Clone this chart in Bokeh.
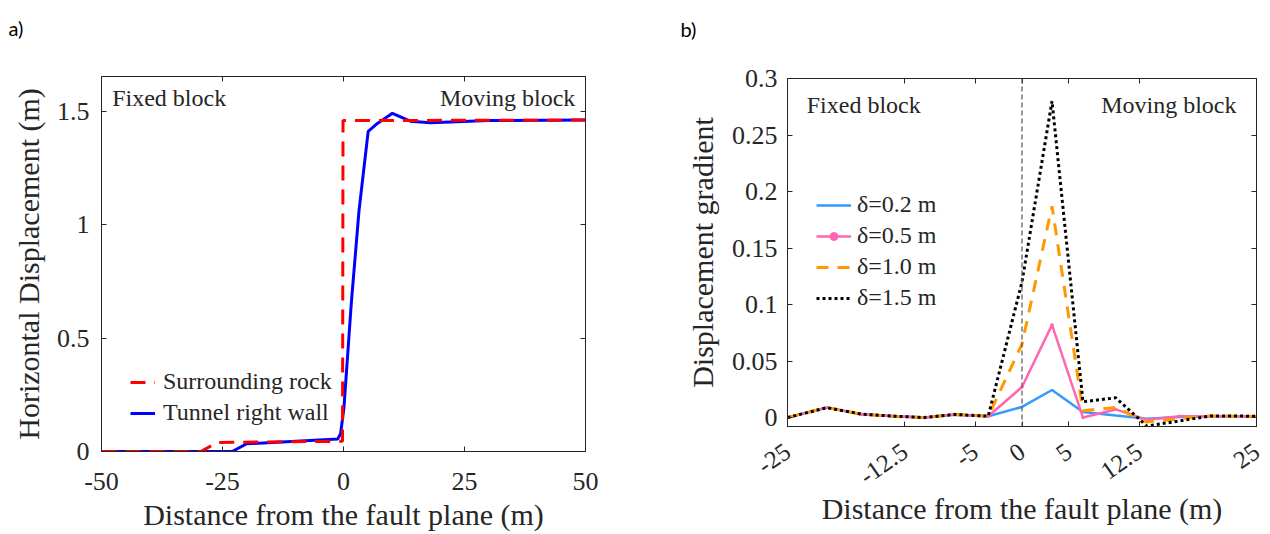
import math
from bokeh.plotting import figure
from bokeh.layouts import row, column
from bokeh.models import (LinearAxis, FixedTicker, Range1d, Label, Legend,
                          LegendItem, Span)
from bokeh.embed import file_html
from bokeh.resources import INLINE

# ---------------- Panel a data ----------------
rock_x = [-50, -29.5, -26, -0.2, -0.1, 50]
rock_y = [0, 0, 0.04, 0.045, 1.458, 1.46]
wall_x = [-50, -23, -20, -1.2, -0.6, 0.1, 1.6, 3.2, 5.1, 7.0, 10.1, 13.8, 18, 30, 50]
wall_y = [0, 0, 0.034, 0.055, 0.078, 0.195, 0.65, 1.06, 1.41, 1.445, 1.49, 1.455, 1.448, 1.458, 1.46]
a_xticks = [-50, -25, 0, 25, 50]
a_xtick_labels = ["-50", "-25", "0", "25", "50"]
a_yticks = [0, 0.5, 1, 1.5]
a_ytick_labels = ["0", "0.5", "1", "1.5"]

# ---------------- Panel b data ----------------
b_x = [-25, -20.8, -17.1, -13.6, -10.4, -7.2, -3.6, 0, 3.2, 6.5, 10.0, 13.3, 16.8, 20.1, 25]
grad_02 = [0.0, 0.0088, 0.003, 0.0012, 0.0, 0.0025, 0.0012, 0.0094, 0.0244, 0.005, 0.0018, -0.0010, 0.0005, 0.001, 0.001]
grad_05 = [0.0, 0.0088, 0.003, 0.0012, 0.0, 0.0028, 0.0012, 0.027, 0.082, 0.0, 0.0072, -0.002, 0.0012, 0.0012, 0.001]
grad_10 = [0.0, 0.0088, 0.003, 0.0012, 0.0, 0.0028, 0.0012, 0.065, 0.187, 0.006, 0.009, -0.004, -0.001, 0.0015, 0.001]
grad_15 = [0.0, 0.0088, 0.003, 0.0012, 0.0, 0.0028, 0.0012, 0.12, 0.28, 0.014, 0.0175, -0.0075, -0.003, 0.0015, 0.0012]
b_xticks = [-25, -12.5, -5, 0, 5, 12.5, 25]
b_xtick_labels = ["-25", "-12.5", "-5", "0", "5", "12.5", "25"]
b_yticks = [0, 0.05, 0.1, 0.15, 0.2, 0.25, 0.3]
b_ytick_labels = ["0", "0.05", "0.1", "0.15", "0.2", "0.25", "0.3"]

SERIF = "Liberation Serif"
AX = "#262626"
TXT = "#262626"
XLAB = "Distance from the fault plane (m)"


def hide_labels(ax):
    ax.major_label_text_font_size = "1px"
    ax.major_label_text_color = None
    ax.major_label_standoff = 0


def style(p, xticks, xlabels, yticks, ylabels, xlabel, ylabel):
    p.xgrid.visible = False
    p.ygrid.visible = False
    p.outline_line_color = AX
    p.outline_line_width = 1
    p.background_fill_color = "white"
    p.border_fill_color = "white"
    xax = p.below[0]
    yax = p.left[0]
    for ax, ticks, labels, lab in ((xax, xticks, xlabels, xlabel),
                                   (yax, yticks, ylabels, ylabel)):
        ax.ticker = FixedTicker(ticks=ticks)
        ax.major_label_overrides = {t: l for t, l in zip(ticks, labels)}
        ax.major_tick_in = 5
        ax.major_tick_out = 0
        ax.minor_tick_line_color = None
        ax.axis_line_color = AX
        ax.major_tick_line_color = AX
        ax.major_label_text_font = SERIF
        ax.major_label_text_font_size = "26px"
        ax.major_label_text_color = TXT
        ax.axis_label = lab
        ax.axis_label_text_font = SERIF
        ax.axis_label_text_font_size = "30px"
        ax.axis_label_text_font_style = "normal"
        ax.axis_label_text_color = TXT
    for side, ticks in (("above", xticks), ("right", yticks)):
        ax = LinearAxis(ticker=FixedTicker(ticks=ticks))
        hide_labels(ax)
        ax.major_tick_in = 5
        ax.major_tick_out = 0
        ax.minor_tick_line_color = None
        ax.axis_line_color = AX
        ax.major_tick_line_color = AX
        p.add_layout(ax, side)
    return xax, yax


def panel_tag(p, text, offset, standoff):
    # trailing blank line lifts the tag towards the top edge of the canvas
    p.title.text = text + "\n\u00a0"
    p.title.align = "left"
    p.title.vertical_align = "bottom"
    p.title.offset = offset
    p.title.standoff = standoff
    p.title.text_font = "Lato"
    p.title.text_font_size = "20px"
    p.title.text_font_style = "normal"
    p.title.text_color = "black"


# ================= Panel a =================
pa = figure(width=643, height=534, x_range=Range1d(-50, 50), y_range=Range1d(0, 1.652),
            output_backend="svg", toolbar_location=None,
            min_border_left=101, min_border_right=58, min_border_top=76, min_border_bottom=83)
ax_a, ay_a = style(pa, a_xticks, a_xtick_labels, a_yticks, a_ytick_labels,
                   XLAB, "Horizontal Displacement (m)")
ax_a.major_label_standoff = 21
ax_a.axis_label_standoff = 5
ay_a.major_label_standoff = 12
ay_a.axis_label_standoff = 9
panel_tag(pa, "a)", -93, 26)

r_wall = pa.line(wall_x, wall_y, line_color="#0000FF", line_width=3)
r_rock = pa.line(rock_x, rock_y, line_color="#FF0000", line_width=3, line_dash="15 9")

leg_a = Legend(items=[LegendItem(label="Surrounding rock", renderers=[r_rock]),
                      LegendItem(label="Tunnel right wall", renderers=[r_wall])],
               location=(29, 25), border_line_color=None, background_fill_alpha=0,
               label_text_font=SERIF, label_text_font_size="24px", label_text_color=TXT,
               glyph_width=25, label_standoff=8, padding=0, margin=0, spacing=4)
pa.add_layout(leg_a)

pa.add_layout(Label(x=-47.8, y=1.559, text="Fixed block", text_align="left", text_baseline="middle",
                    text_font=SERIF, text_font_size="24px", text_color=TXT))
pa.add_layout(Label(x=47.9, y=1.559, text="Moving block", text_align="right", text_baseline="middle",
                    text_font=SERIF, text_font_size="24px", text_color=TXT))

# ================= Panel b =================
pb = figure(width=627, height=534, x_range=Range1d(-25, 25), y_range=Range1d(-0.0079, 0.3),
            output_backend="svg", toolbar_location=None,
            min_border_left=144, min_border_right=14, min_border_top=77, min_border_bottom=108)
ax_b, ay_b = style(pb, b_xticks, b_xtick_labels, b_yticks, b_ytick_labels,
                   XLAB, "Displacement gradient")
ax_b.major_label_orientation = math.radians(35)
ax_b.major_label_text_font_size = "25px"
ax_b.major_label_standoff = 22
ax_b.axis_label_standoff = -3
ay_b.major_label_standoff = 10
ay_b.axis_label_standoff = 10
panel_tag(pb, "b)", -107, 28)

pb.add_layout(Span(location=0, dimension="height", line_color="#555555",
                   line_width=1.2, line_dash="5 3"))

r02 = pb.line(b_x, grad_02, line_color="#3399FF", line_width=2.5)
r05 = pb.line(b_x, grad_05, line_color="#FF66B2", line_width=2.5)
r05m = pb.scatter(b_x, grad_05, size=2.5, color="#FF66B2")
r10 = pb.line(b_x, grad_10, line_color="#FF9900", line_width=3, line_dash="12 9")
r15 = pb.line(b_x, grad_15, line_color="black", line_width=3, line_dash="3 3")

leg_b = Legend(items=[LegendItem(label="δ=0.2 m", renderers=[r02]),
                      LegendItem(label="δ=0.5 m", renderers=[r05, r05m]),
                      LegendItem(label="δ=1.0 m", renderers=[r10]),
                      LegendItem(label="δ=1.5 m", renderers=[r15])],
               location=(29, 115), border_line_color=None, background_fill_alpha=0,
               label_text_font=SERIF, label_text_font_size="24px", label_text_color=TXT,
               glyph_width=35, label_standoff=6, padding=0, margin=0, spacing=4)
pb.add_layout(leg_b)

pb.add_layout(Label(x=-22.95, y=0.2768, text="Fixed block", text_align="left", text_baseline="middle",
                    text_font=SERIF, text_font_size="24px", text_color=TXT))
pb.add_layout(Label(x=22.87, y=0.2768, text="Moving block", text_align="right", text_baseline="middle",
                    text_font=SERIF, text_font_size="24px", text_color=TXT))

layout = row(column(pa), column(pb))
open("out.html", "w").write(file_html(layout, INLINE))
